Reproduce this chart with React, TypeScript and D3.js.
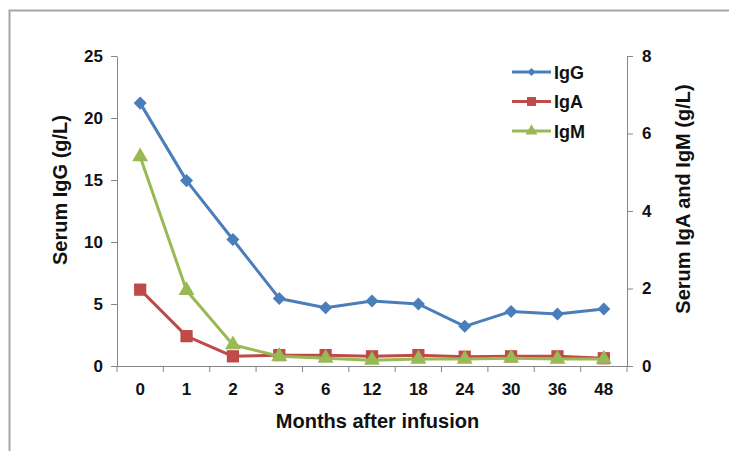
import React, { useRef, useEffect } from "react";
import * as d3 from "d3";

const months = ["0", "1", "2", "3", "6", "12", "18", "24", "30", "36", "48"];
const igG = [21.2, 14.95, 10.2, 5.45, 4.7, 5.25, 5.0, 3.2, 4.4, 4.2, 4.6];
const igA = [1.97, 0.77, 0.25, 0.28, 0.28, 0.25, 0.28, 0.24, 0.25, 0.25, 0.2];
const igM = [5.4, 1.95, 0.55, 0.25, 0.2, 0.15, 0.18, 0.18, 0.2, 0.18, 0.18];
const leftTicks = [0, 5, 10, 15, 20, 25];
const rightTicks = [0, 2, 4, 6, 8];

const FONT = "'Liberation Sans', Arial, sans-serif";
const AXIS = "#868686";

const App = () => {
    const svgRef = useRef(null);

    useEffect(() => {
        const width = 729;
        const height = 451;
        const margin = { top: 56, right: 102, bottom: 85, left: 117 };

        const svg = d3.select(svgRef.current).attr("width", width).attr("height", height);
        svg.selectAll("*").remove();

        // outer frame
        svg.append("rect")
            .attr("x", 9.5)
            .attr("y", 10.5)
            .attr("width", 800)
            .attr("height", 500)
            .attr("fill", "#fff")
            .attr("stroke", "#a6a6a6")
            .attr("stroke-width", 2);

        const x = d3
            .scaleBand()
            .domain(months)
            .range([margin.left, width - margin.right])
            .padding(0);
        const yL = d3
            .scaleLinear()
            .domain([0, 25])
            .range([height - margin.bottom, margin.top]);
        const yR = d3
            .scaleLinear()
            .domain([0, 8])
            .range([height - margin.bottom, margin.top]);

        const styleAxis = (g: any) => {
            g.selectAll("path").attr("stroke", AXIS).attr("stroke-width", 1);
            g.selectAll("line").attr("stroke", AXIS).attr("stroke-width", 1);
            g.selectAll("text")
                .attr("fill", "#111")
                .style("font-family", FONT)
                .style("font-size", "17px")
                .style("font-weight", "bold");
        };

        // left axis
        svg.append("g")
            .attr("transform", `translate(${margin.left},0)`)
            .call(d3.axisLeft(yL).tickValues(leftTicks).tickSize(6).tickSizeOuter(0).tickPadding(8))
            .call(styleAxis);

        // right axis
        svg.append("g")
            .attr("transform", `translate(${width - margin.right},0)`)
            .call(d3.axisRight(yR).tickValues(rightTicks).tickSize(6).tickSizeOuter(0).tickPadding(9))
            .call(styleAxis);

        // bottom axis: labels at centres, ticks at boundaries
        const xg = svg
            .append("g")
            .attr("transform", `translate(0,${height - margin.bottom})`)
            .call(d3.axisBottom(x).tickSize(0).tickSizeOuter(0).tickPadding(17))
            .call(styleAxis);
        const edges = months.map((m) => x(m) as number).concat([width - margin.right]);
        xg.selectAll(".edge")
            .data(edges)
            .enter()
            .append("line")
            .attr("class", "edge")
            .attr("x1", (d: number) => d)
            .attr("x2", (d: number) => d)
            .attr("y1", 0)
            .attr("y2", 6)
            .attr("stroke", AXIS);

        const cx = (i: number) => (x(months[i]) as number) + x.bandwidth() / 2;

        // diamond = square turned 45deg
        const series = [
            { name: "IgG", values: igG, scale: yL, color: "#4A7EBB", shape: d3.symbolSquare, rot: 45, size: 85, lsize: 32 },
            { name: "IgA", values: igA, scale: yR, color: "#BE4B48", shape: d3.symbolSquare, rot: 0, size: 150, lsize: 80 },
            { name: "IgM", values: igM, scale: yR, color: "#98B954", shape: d3.symbolTriangle, rot: 0, size: 110, lsize: 60 },
        ];

        series.forEach((s) => {
            const line = d3
                .line<number>()
                .x((_d, i) => cx(i))
                .y((d) => s.scale(d));
            svg.append("path")
                .datum(s.values)
                .attr("d", line)
                .attr("fill", "none")
                .attr("stroke", s.color)
                .attr("stroke-width", 3)
                .attr("stroke-linejoin", "round");
            svg.selectAll(`.pt-${s.name}`)
                .data(s.values)
                .enter()
                .append("path")
                .attr("class", `pt-${s.name}`)
                .attr("transform", (d: number, i: number) => `translate(${cx(i)},${s.scale(d)}) rotate(${s.rot})`)
                .attr("d", d3.symbol().type(s.shape).size(s.size)() as string)
                .attr("fill", s.color);
        });

        // legend
        const legend = svg.append("g");
        series.forEach((s, i) => {
            const ly = 72 + i * 29.5;
            legend.append("line")
                .attr("x1", 512)
                .attr("x2", 551)
                .attr("y1", ly)
                .attr("y2", ly)
                .attr("stroke", s.color)
                .attr("stroke-width", 3);
            legend.append("path")
                .attr("transform", `translate(531.5,${ly}) rotate(${s.rot})`)
                .attr("d", d3.symbol().type(s.shape).size(s.lsize)() as string)
                .attr("fill", s.color);
            legend.append("text")
                .attr("x", 554)
                .attr("y", ly + 6.5)
                .attr("fill", "#111")
                .style("font-family", FONT)
                .style("font-size", "18px")
                .style("font-weight", "bold")
                .text(s.name);
        });

        // axis titles
        const title = (t: string, tx: number, ty: number, rot: number) =>
            svg.append("text")
                .attr("transform", `translate(${tx},${ty}) rotate(${rot})`)
                .attr("text-anchor", "middle")
                .attr("fill", "#111")
                .style("font-family", FONT)
                .style("font-size", "20px")
                .style("font-weight", "bold")
                .text(t);
        title("Serum IgG (g/L)", 67, 190, -90);
        title("Serum IgA and IgM (g/L)", 690, 199, -90);
        title("Months after infusion", 377.5, 428, 0);
    }, []);

    return <svg ref={svgRef} style={{ position: "absolute", left: 0, top: 0 }}></svg>;
};

export default App;
